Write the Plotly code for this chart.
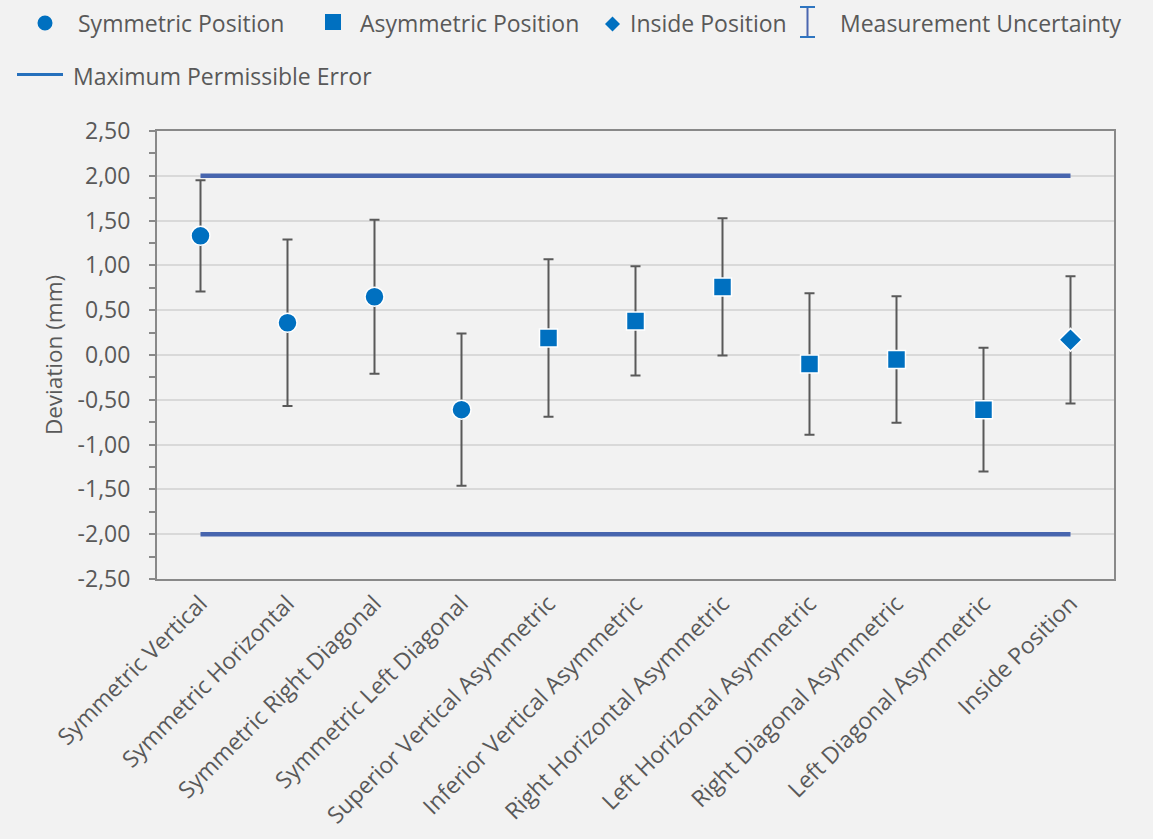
import plotly.graph_objects as go

# ---------------- data ----------------
categories = [
    "Symmetric Vertical", "Symmetric Horizontal", "Symmetric Right Diagonal",
    "Symmetric Left Diagonal", "Superior Vertical Asymmetric", "Inferior Vertical Asymmetric",
    "Right Horizontal Asymmetric", "Left Horizontal Asymmetric", "Right Diagonal Asymmetric",
    "Left Diagonal Asymmetric", "Inside Position",
]
sym_cats = categories[0:4]
sym_vals = [1.33, 0.36, 0.65, -0.61]
sym_unc = [0.62, 0.93, 0.86, 0.85]

asym_cats = categories[4:10]
asym_vals = [0.19, 0.38, 0.76, -0.10, -0.05, -0.61]
asym_unc = [0.88, 0.61, 0.765, 0.79, 0.705, 0.69]

inside_cats = categories[10:11]
inside_vals = [0.17]
inside_unc = [0.71]

mpe = 2.0

y_tick_vals = [2.5, 2.0, 1.5, 1.0, 0.5, 0.0, -0.5, -1.0, -1.5, -2.0, -2.5]
y_tick_text = ["2,50", "2,00", "1,50", "1,00", "0,50", "0,00", "-0,50", "-1,00", "-1,50", "-2,00", "-2,50"]
y_minor_vals = [2.25, 1.75, 1.25, 0.75, 0.25, -0.25, -0.75, -1.25, -1.75, -2.25]

legend_labels = ["Symmetric Position", "Asymmetric Position", "Inside Position",
                 "Measurement Uncertainty", "Maximum Permissible Error"]

# ---------------- style ----------------
W, H = 1153, 839
L, R, T, B = 157, 1114, 131, 579   # plot area in pixels
FONT = "Open Sans"
TXT = "#595959"
BLUE = "#0070C0"
MPE_COLOR = "#4765AE"
AXIS = "#898989"
GRID = "#d9d9d9"
BG = "#f2f2f2"
FS = 23

def px(x):
    return (x - L) / (R - L)

def py(y):
    return (B - y) / (B - T)

fig = go.Figure()

# Maximum permissible error lines
for sgn in (1, -1):
    fig.add_trace(go.Scatter(
        x=[categories[0], categories[-1]], y=[sgn * mpe, sgn * mpe],
        mode="lines", line=dict(color=MPE_COLOR, width=4.5),
        showlegend=False, hoverinfo="skip"))

def add_series(cats, vals, unc, symbol, size, name):
    fig.add_trace(go.Scatter(
        x=cats, y=vals, mode="markers", name=name,
        marker=dict(symbol=symbol, size=size, color=BLUE,
                    line=dict(color="white", width=1.5)),
        error_y=dict(type="data", array=unc, visible=True,
                     color="#595959", thickness=2, width=5),
        showlegend=False))

add_series(sym_cats, sym_vals, sym_unc, "circle", 19, legend_labels[0])
add_series(asym_cats, asym_vals, asym_unc, "square", 18, legend_labels[1])
add_series(inside_cats, inside_vals, inside_unc, "diamond", 17.5, legend_labels[2])

# ---------------- manual legend (paper coordinates) ----------------
shapes = []
shapes.append(dict(type="circle", xref="paper", yref="paper",
                   x0=px(37.5), x1=px(52.5), y0=py(30.5), y1=py(15.5),
                   fillcolor=BLUE, line=dict(width=0)))
shapes.append(dict(type="rect", xref="paper", yref="paper",
                   x0=px(325), x1=px(341), y0=py(30), y1=py(14),
                   fillcolor=BLUE, line=dict(width=0)))
cx, cy, r = 612.5, 24, 7.5
shapes.append(dict(type="path", xref="paper", yref="paper",
                   path=f"M {px(cx)},{py(cy - r)} L {px(cx + r)},{py(cy)} "
                        f"L {px(cx)},{py(cy + r)} L {px(cx - r)},{py(cy)} Z",
                   fillcolor=BLUE, line=dict(width=0)))
shapes.append(dict(type="line", xref="paper", yref="paper",
                   x0=px(807.5), x1=px(807.5), y0=py(7), y1=py(37),
                   line=dict(color="#4A66B0", width=2)))
for yy in (7, 37):
    shapes.append(dict(type="line", xref="paper", yref="paper",
                       x0=px(800), x1=px(815), y0=py(yy), y1=py(yy),
                       line=dict(color="#2E75C0", width=2)))
shapes.append(dict(type="line", xref="paper", yref="paper",
                   x0=px(17), x1=px(63), y0=py(74.5), y1=py(74.5),
                   line=dict(color="#2670BC", width=3)))

legend_pos = [(76, 23), (358, 23), (628, 23), (838, 23), (71, 76)]
annotations = []
for t, (tx, ty) in zip(legend_labels, legend_pos):
    annotations.append(dict(
        text=t, x=px(tx), y=py(ty), xref="paper", yref="paper",
        xanchor="left", yanchor="middle", showarrow=False,
        font=dict(family=FONT, size=FS, color=TXT)))

fig.update_layout(
    width=W, height=H,
    margin=dict(l=L, r=W - R, t=T, b=H - B, autoexpand=False, pad=0),
    paper_bgcolor=BG, plot_bgcolor=BG,
    font=dict(family=FONT, size=FS, color=TXT),
    showlegend=False,
    annotations=annotations,
    shapes=shapes,
    xaxis=dict(
        type="category", categoryorder="array", categoryarray=categories,
        range=[-0.5, 10.5],
        showline=True, linecolor=AXIS, linewidth=2, mirror=True,
        showgrid=False, ticks="", tickangle=-45,
        tickfont=dict(family=FONT, size=FS, color=TXT),
        zeroline=False,
    ),
    yaxis=dict(
        range=[-2.5, 2.5],
        tickvals=y_tick_vals, ticktext=y_tick_text,
        showline=True, linecolor=AXIS, linewidth=2, mirror=True,
        showgrid=True, gridcolor=GRID, gridwidth=1.5,
        ticks="outside", ticklen=6, tickwidth=1.5, tickcolor=AXIS,
        ticklabelstandoff=14,
        minor=dict(ticks="outside", tickvals=y_minor_vals,
                   ticklen=6, tickwidth=1.5, tickcolor=AXIS, showgrid=False),
        tickfont=dict(family=FONT, size=FS, color=TXT),
        title=dict(text="Deviation (mm)", standoff=9,
                   font=dict(family=FONT, size=22.5, color=TXT)),
        zeroline=False,
    ),
)

fig.write_html("out.html", config={"displayModeBar": False},
               post_script="document.body.style.margin='0';")
